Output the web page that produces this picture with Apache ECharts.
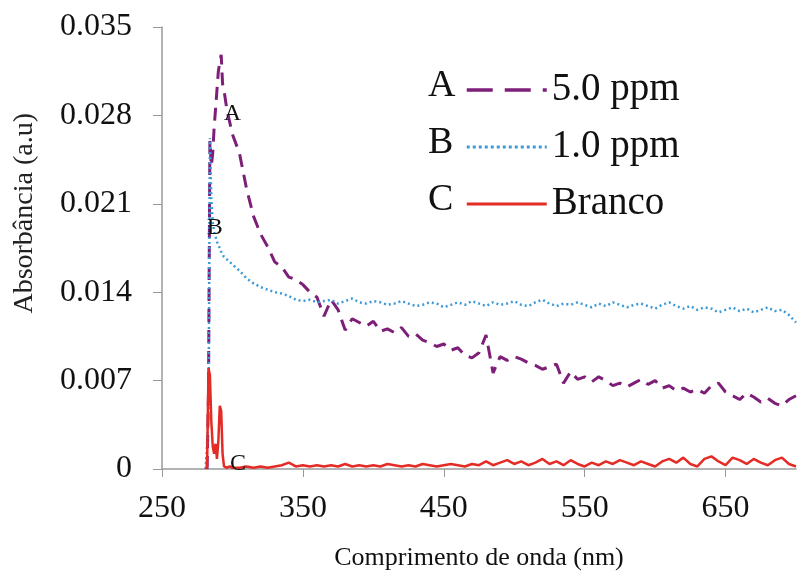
<!DOCTYPE html>
<html>
<head>
<meta charset="utf-8">
<script src="https://cdn.jsdelivr.net/npm/echarts@6/dist/echarts.min.js"></script>
<style>
  html, body { margin: 0; padding: 0; background: #fff; }
  #chart { width: 800px; height: 576px; }
</style>
</head>
<body>
<div id="chart"></div>
<script>
// Wavelength grid (nm): fine steps across the UV peak, then every 5 nm
const wavelengths = [
  281, 282, 283, 284, 285, 286, 287, 288, 289, 290, 291, 292, 293, 294, 296, 298,
  300, 305, 310, 315, 320, 325, 330, 335, 340, 345, 350, 355, 360, 365, 370, 375,
  380, 385, 390, 395, 400, 405, 410, 415, 420, 425, 430, 435, 440, 445, 450, 455,
  460, 465, 470, 475, 480, 485, 490, 495, 500, 505, 510, 515, 520, 525, 530, 535,
  540, 545, 550, 555, 560, 565, 570, 575, 580, 585, 590, 595, 600, 605, 610, 615,
  620, 625, 630, 635, 640, 645, 650, 655, 660, 665, 670, 675, 680, 685, 690, 695,
  700
];

// A: 5.0 ppm
const absA = [
  null, 0.0000, 0.0060, 0.0260, 0.0240, 0.0250, 0.0270, 0.0285, 0.0300, 0.0315, 0.0322, 0.0328, 0.0305, 0.0300, 0.0285, 0.0275,
  0.0265, 0.0250, 0.0222, 0.0200, 0.0186, 0.0176, 0.0164, 0.0160, 0.0152, 0.0150, 0.0146, 0.0140, 0.0136, 0.0121, 0.0134, 0.0126,
  0.0110, 0.0119, 0.0116, 0.0113, 0.0117, 0.0109, 0.0111, 0.0108, 0.0112, 0.0105, 0.0107, 0.0102, 0.0100, 0.0097, 0.0099, 0.0094,
  0.0096, 0.0090, 0.0088, 0.0092, 0.0106, 0.0076, 0.0089, 0.0086, 0.0089, 0.0087, 0.0084, 0.0082, 0.0079, 0.0081, 0.0083, 0.0068,
  0.0077, 0.0071, 0.0073, 0.0069, 0.0073, 0.0070, 0.0066, 0.0068, 0.0065, 0.0068, 0.0071, 0.0067, 0.0070, 0.0064, 0.0066, 0.0062,
  0.0064, 0.0061, 0.0063, 0.0060, 0.0066, 0.0068, 0.0061, 0.0058, 0.0055, 0.0060, 0.0057, 0.0053, 0.0056, 0.0052, 0.0050, 0.0055,
  0.0058
];

// B: 1.0 ppm
const absB = [
  0.0000, 0.0000, 0.0040, 0.0262, 0.0215, 0.0195, 0.0188, 0.0184, 0.0180, 0.0177, 0.0175, 0.0172, 0.0170, 0.0168, 0.0166, 0.0164,
  0.0162, 0.0157, 0.0151, 0.0147, 0.0144, 0.0142, 0.0140, 0.0139, 0.0137, 0.0134, 0.0133, 0.0134, 0.0132, 0.0133, 0.0134, 0.0131,
  0.0133, 0.0135, 0.0132, 0.0131, 0.0133, 0.0132, 0.0130, 0.0131, 0.0133, 0.0131, 0.0129, 0.0130, 0.0132, 0.0131, 0.0128, 0.0130,
  0.0132, 0.0130, 0.0133, 0.0131, 0.0129, 0.0132, 0.0130, 0.0131, 0.0133, 0.0130, 0.0129, 0.0132, 0.0134, 0.0131, 0.0129, 0.0131,
  0.0130, 0.0132, 0.0130, 0.0128, 0.0131, 0.0129, 0.0132, 0.0130, 0.0128, 0.0130, 0.0131, 0.0129, 0.0127, 0.0130, 0.0132, 0.0129,
  0.0127, 0.0129, 0.0126, 0.0128, 0.0127, 0.0124, 0.0126, 0.0128, 0.0125, 0.0127, 0.0124, 0.0126, 0.0128, 0.0125, 0.0126, 0.0122,
  0.0116
];

// C: blank (Branco)
const absC = [
  0.0000, 0.0002, 0.0080, 0.0074, 0.0038, 0.0018, 0.0012, 0.0020, 0.0008, 0.0022, 0.0050, 0.0046, 0.0012, 0.0002, 0.0001, 0.0002,
  0.0001, 0.0001, 0.0002, 0.0001, 0.0002, 0.0001, 0.0002, 0.0003, 0.0005, 0.0002, 0.0003, 0.0002, 0.0003, 0.0002, 0.0003, 0.0002,
  0.0004, 0.0002, 0.0003, 0.0002, 0.0003, 0.0002, 0.0004, 0.0003, 0.0002, 0.0003, 0.0002, 0.0004, 0.0003, 0.0002, 0.0003, 0.0004,
  0.0003, 0.0002, 0.0004, 0.0003, 0.0006, 0.0003, 0.0005, 0.0007, 0.0004, 0.0006, 0.0003, 0.0005, 0.0008, 0.0004, 0.0006, 0.0003,
  0.0007, 0.0004, 0.0002, 0.0005, 0.0003, 0.0006, 0.0004, 0.0007, 0.0005, 0.0003, 0.0006, 0.0004, 0.0002, 0.0006, 0.0008, 0.0005,
  0.0009, 0.0004, 0.0002, 0.0008, 0.0010, 0.0006, 0.0003, 0.0009, 0.0007, 0.0004, 0.0008, 0.0005, 0.0003, 0.0007, 0.0009, 0.0004,
  0.0002
];

const seriesNames = ['5.0 ppm', '1.0 ppm', 'Branco'];
const seriesTags = ['A', 'B', 'C'];
const xTicks = [250, 350, 450, 550, 650];
const yTicks = [0, 0.007, 0.014, 0.021, 0.028, 0.035];
// Curve tags placed next to each curve, in data units [nm, absorbance]
const tagPositions = [[300, 0.0281], [287.5, 0.0191], [304, 0.0004]];

const SERIF = '"Liberation Serif", "Times New Roman", serif';
const colors = ['#7d1f78', '#3d9ad8', '#e52b25'];
const lineTypes = [[13, 8], [2, 3], 'solid'];
const legendLineTypes = [[26, 12], [3, 3], 'solid'];
const lineWidths = [3, 2.5, 2.5];
const seriesData = [absA, absB, absC];

const chart = echarts.init(document.getElementById('chart'), null, { renderer: 'canvas' });

const series = seriesData.map((vals, k) => ({
  name: seriesNames[k],
  type: 'line',
  data: wavelengths.map((w, i) => [w, vals[i]]),
  showSymbol: false,
  symbol: 'none',
  connectNulls: false,
  z: 2 + k,
  lineStyle: { color: colors[k], width: lineWidths[k], type: lineTypes[k] },
  itemStyle: { color: colors[k] },
  markPoint: {
    symbol: 'circle',
    symbolSize: 1,
    itemStyle: { color: 'rgba(0,0,0,0)' },
    label: {
      show: true,
      position: 'inside',
      formatter: seriesTags[k],
      color: '#111',
      fontFamily: SERIF,
      fontSize: 24
    },
    data: [{ coord: tagPositions[k] }]
  }
}));

const option = {
  backgroundColor: '#ffffff',
  animation: false,
  grid: { left: 162, right: 4, top: 27, bottom: 104, containLabel: false },
  xAxis: {
    type: 'value',
    min: 250,
    max: 700,
    interval: 100,
    name: 'Comprimento de onda (nm)',
    nameLocation: 'middle',
    nameGap: 76,
    nameTextStyle: { fontFamily: SERIF, fontSize: 26, color: '#111' },
    axisLine: { show: true, lineStyle: { color: '#9a9a9a', width: 1.5 } },
    axisTick: { show: true, length: 8, customValues: xTicks, lineStyle: { color: '#9a9a9a' } },
    axisLabel: {
      customValues: xTicks,
      margin: 24,
      fontFamily: SERIF,
      fontSize: 32,
      color: '#111'
    },
    splitLine: { show: false }
  },
  yAxis: {
    type: 'value',
    min: 0,
    max: 0.035,
    interval: 0.007,
    axisLine: { show: true, lineStyle: { color: '#9a9a9a', width: 1.5 } },
    axisTick: { show: true, length: 9, customValues: yTicks, lineStyle: { color: '#9a9a9a' } },
    axisLabel: {
      customValues: yTicks,
      margin: 30,
      fontFamily: SERIF,
      fontSize: 32,
      color: '#111',
      formatter: v => (v === 0 ? '0' : v.toFixed(3))
    },
    splitLine: { show: false }
  },
  legend: {
    data: seriesNames.map((n, k) => ({
      name: n,
      lineStyle: { type: legendLineTypes[k], width: lineWidths[k] + 0.5 }
    })),
    orient: 'vertical',
    left: 460,
    top: 64,
    itemWidth: 80,
    itemHeight: 14,
    itemGap: 15,
    itemStyle: { color: 'rgba(0,0,0,0)', borderWidth: 0, opacity: 0 },
    textStyle: { fontFamily: SERIF, fontSize: 39, color: '#111', lineHeight: 42, padding: [0, 0, 0, 0] },
    selectedMode: false
  },
  graphic: [
    {
      type: 'text',
      left: 11,
      top: 113,
      rotation: Math.PI / 2,
      style: { text: 'Absorbância (a.u)', fontFamily: SERIF, fontSize: 28, fill: '#222' }
    },
    { type: 'text', left: 428, top: 67, style: { text: seriesTags[0], fontFamily: SERIF, fontSize: 38, fill: '#111' } },
    { type: 'text', left: 428, top: 124, style: { text: seriesTags[1], fontFamily: SERIF, fontSize: 38, fill: '#111' } },
    { type: 'text', left: 428, top: 181, style: { text: seriesTags[2], fontFamily: SERIF, fontSize: 38, fill: '#111' } }
  ],
  series: series
};

chart.setOption(option);
</script>
</body>
</html>
